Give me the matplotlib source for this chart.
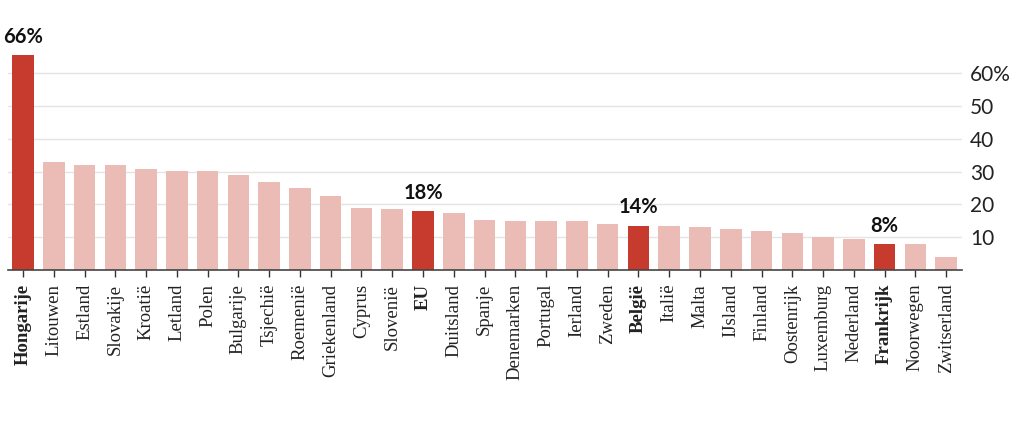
import numpy as np
import matplotlib
matplotlib.use("Agg")
import matplotlib.pyplot as plt

# Values (percent)
countries = ["Hongarije", "Litouwen", "Estland", "Slovakije", "Kroatië", "Letland",
             "Polen", "Bulgarije", "Tsjechië", "Roemenië", "Griekenland", "Cyprus",
             "Slovenië", "EU", "Duitsland", "Spanje", "Denemarken", "Portugal",
             "Ierland", "Zweden", "België", "Italië", "Malta", "IJsland", "Finland",
             "Oostenrijk", "Luxemburg", "Nederland", "Frankrijk", "Noorwegen",
             "Zwitserland"]
values = [65.5, 33.0, 32.0, 32.0, 30.7, 30.2, 30.2, 29.0, 26.9, 25.1, 22.6, 18.9,
          18.6, 17.9, 17.4, 15.1, 14.8, 14.8, 14.8, 14.0, 13.5, 13.3, 13.0, 12.5,
          11.8, 11.3, 10.0, 9.5, 7.9, 7.9, 3.9]
highlight = ["Hongarije", "EU", "België", "Frankrijk"]
labels = {"Hongarije": "66%", "EU": "18%", "België": "14%", "Frankrijk": "8%"}
yticks = [10, 20, 30, 40, 50, 60]
ytick_labels = ["10", "20", "30", "40", "50", "60%"]

dark = "#c73a2e"
light = "#ebbbb5"

fig = plt.figure(figsize=(10.24, 4.34), dpi=100)
ax = fig.add_axes([0.0074, 0.378, 0.9316, 0.499])

x = np.arange(len(countries))
colors = [dark if c in highlight else light for c in countries]
ax.bar(x, values, width=0.7, color=colors, zorder=2)

for i, c in enumerate(countries):
    if c in labels:
        ax.annotate(labels[c], (x[i], values[i]), xytext=(0, 6), textcoords="offset points",
                    ha="center", va="bottom", fontsize=14.5, fontweight="bold",
                    family="Lato", color="#111111")

ax.set_xlim(-0.5, 30.5)
ax.set_ylim(0, 66)
ax.set_yticks(yticks)
ax.set_yticklabels(ytick_labels, family="Lato", fontsize=15, color="#222222")
ax.yaxis.tick_right()
ax.tick_params(axis="y", length=0, pad=6)
ax.grid(axis="y", color="#e4e4e4", linewidth=1, zorder=0)

ax.set_xticks(x)
ax.set_xticklabels(countries, rotation=90, family="Liberation Serif", fontsize=13.5,
                   color="#222222", va="top")
for lbl in ax.get_xticklabels():
    if lbl.get_text() in highlight:
        lbl.set_fontweight("bold")
ax.tick_params(axis="x", length=5, width=1, color="#333333", pad=5)

for s in ["top", "left", "right"]:
    ax.spines[s].set_visible(False)
ax.spines["bottom"].set_color("#444444")
ax.spines["bottom"].set_linewidth(1.2)
ax.spines["bottom"].set_zorder(3)

fig.savefig("out.png", dpi=100)
